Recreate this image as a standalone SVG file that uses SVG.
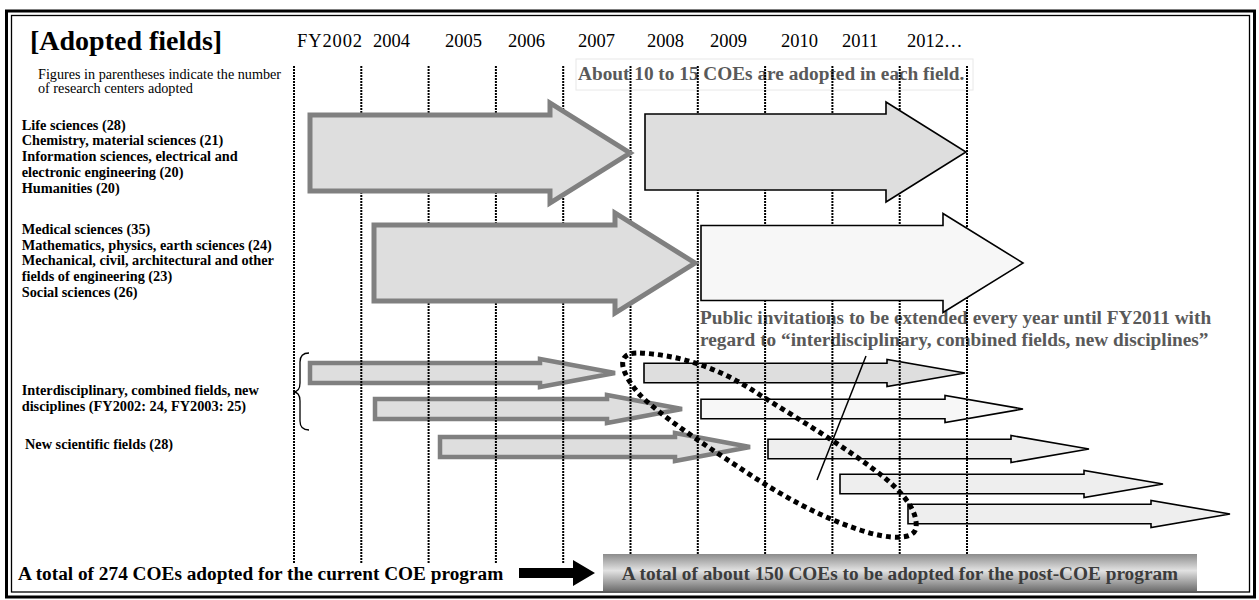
<svg xmlns="http://www.w3.org/2000/svg" width="1259" height="600" viewBox="0 0 1259 600">
<defs>
<style>
text{font-family:"Liberation Serif","Times New Roman",serif;}
.title{font-size:28px;font-weight:bold;fill:#000;}
.yr{font-size:18.5px;fill:#000;}
.note{font-size:14.2px;fill:#000;}
.lbl{font-size:14.3px;font-weight:bold;fill:#000;}
.call{font-size:19.3px;font-weight:bold;fill:#595959;}
.bot{font-size:19.3px;font-weight:bold;fill:#000;}
.grid line{stroke:#000;stroke-width:2;stroke-dasharray:2 1;}
.garrow{fill:#dedede;stroke:#808080;stroke-width:5;stroke-linejoin:miter;}
.gsmall{fill:#dedede;stroke:#808080;stroke-width:4.5;stroke-linejoin:miter;}
.barrow{stroke:#000;stroke-width:1.6;stroke-linejoin:miter;}
</style>
<linearGradient id="gbox" x1="0" y1="0" x2="0" y2="1">
<stop offset="0" stop-color="#8c8c8c"/>
<stop offset="0.45" stop-color="#e2e2e2"/>
<stop offset="1" stop-color="#6e6e6e"/>
</linearGradient>
</defs>
<rect width="1259" height="600" fill="#fff"/>
<g id="frame" fill="none" stroke="#000">
<rect x="6.5" y="11" width="1248" height="586" stroke-width="3"/>
<rect x="11.5" y="15.5" width="1238" height="576.5" stroke-width="1.3"/>
</g>
<g id="header">
<text class="title" x="30" y="50">[Adopted fields]</text>
<text class="yr" x="297" y="47" textLength="65" lengthAdjust="spacing">FY2002</text>
<text class="yr" x="373" y="47">2004</text>
<text class="yr" x="445" y="47">2005</text>
<text class="yr" x="508" y="47">2006</text>
<text class="yr" x="578" y="47">2007</text>
<text class="yr" x="647" y="47">2008</text>
<text class="yr" x="710" y="47">2009</text>
<text class="yr" x="781" y="47">2010</text>
<text class="yr" x="842" y="47">2011</text>
<text class="yr" x="907" y="47">2012…</text>
<text class="note" x="38" y="79">Figures in parentheses indicate the number</text>
<text class="note" x="38" y="93">of research centers adopted</text>
</g>
<g id="labels-group1">
<text class="lbl" x="21.7" y="129.5">Life sciences (28)</text>
<text class="lbl" x="21.7" y="145.3">Chemistry, material sciences (21)</text>
<text class="lbl" x="21.7" y="161.1">Information sciences, electrical and</text>
<text class="lbl" x="21.7" y="176.9">electronic engineering (20)</text>
<text class="lbl" x="21.7" y="192.7">Humanities (20)</text>
</g>
<g id="labels-group2">
<text class="lbl" x="21.7" y="234">Medical sciences (35)</text>
<text class="lbl" x="21.7" y="249.7">Mathematics, physics, earth sciences (24)</text>
<text class="lbl" x="21.7" y="265.4">Mechanical, civil, architectural and other</text>
<text class="lbl" x="21.7" y="281.1">fields of engineering (23)</text>
<text class="lbl" x="21.7" y="296.8">Social sciences (26)</text>
</g>
<g id="labels-group3">
<text class="lbl" x="21.7" y="395">Interdisciplinary, combined fields, new</text>
<text class="lbl" x="21.7" y="411">disciplines (FY2002: 24, FY2003: 25)</text>
<text class="lbl" x="25" y="449">New scientific fields (28)</text>
</g>
<g id="callout-about">
<rect x="576" y="59" width="397" height="31" fill="none" stroke="#e8e8e8" stroke-width="1"/>
<text class="call" x="578" y="80">About 10 to 15 COEs are adopted in each field.</text>
</g>
<g id="callout-public">
<text class="call" x="700" y="324">Public invitations to be extended every year until FY2011 with</text>
<text class="call" x="700" y="346">regard to “interdisciplinary, combined fields, new disciplines”</text>
</g>
<g id="small-arrows-current">
<path id="s1" class="gsmall" d="M310,363 H540 V359 L615,373 L540,387 V383 H310 Z"/>
<path id="s2" class="gsmall" d="M375,399 H607 V395 L682,409 L607,423 V419 H375 Z"/>
<path id="s3" class="gsmall" d="M440,437 H675 V433 L750,447 L675,461 V457 H440 Z"/>
</g>
<g id="small-arrows-post">
<path id="b1" class="barrow" fill="#dedede" d="M644,363.3 H887 V359.5 L965,373 L887,386.5 V382.7 H644 Z"/>
<path id="b2" class="barrow" fill="#f7f7f7" d="M701,399.3 H945 V395.5 L1023,409 L945,422.5 V418.7 H701 Z"/>
<path id="b3" class="barrow" fill="#eeeeee" d="M768,439.3 H1011 V435.5 L1089,449 L1011,462.5 V458.7 H768 Z"/>
<path id="b4" class="barrow" fill="#eeeeee" d="M840,474.3 H1084 V470.5 L1163,484 L1084,497.5 V493.7 H840 Z"/>
<path id="b5" class="barrow" fill="#eeeeee" d="M908,504.3 H1151 V500.5 L1230,514 L1151,527.5 V523.7 H908 Z"/>
</g>
<g id="gridlines" class="grid">
<line x1="294" y1="66" x2="294" y2="563"/>
<line x1="361.3" y1="66" x2="361.3" y2="563"/>
<line x1="428.6" y1="66" x2="428.6" y2="563"/>
<line x1="495.9" y1="66" x2="495.9" y2="563"/>
<line x1="563.2" y1="66" x2="563.2" y2="563"/>
<line x1="630.5" y1="66" x2="630.5" y2="563"/>
<line x1="697.8" y1="66" x2="697.8" y2="563"/>
<line x1="765.1" y1="66" x2="765.1" y2="563"/>
<line x1="832.4" y1="66" x2="832.4" y2="563"/>
<line x1="899.7" y1="66" x2="899.7" y2="563"/>
<line x1="967" y1="66" x2="967" y2="563"/>
</g>
<g id="big-arrows-current">
<path id="a1" class="garrow" d="M310,115 H550 V103 L630,153 L550,203 V191 H310 Z"/>
<path id="a3" class="garrow" d="M374,225 H615 V213 L695,263 L615,313 V301 H374 Z"/>
</g>
<g id="big-arrows-post">
<path id="a2" class="barrow" fill="#dedede" d="M645,114 H886 V102 L966,152 L886,202 V190 H645 Z"/>
<path id="a4" class="barrow" fill="#f7f7f7" d="M701,225.5 H943 V213.5 L1023,263 L943,312.5 V300.5 H701 Z"/>
</g>
<g id="brace">
<path d="M309,353 Q300,353 300,362 V383 Q300,392 293,392 Q300,392 300,401 V421 Q300,430 309,430" fill="none" stroke="#000" stroke-width="1.3"/>
</g>
<g id="connectors">
<path id="loop" d="M640,353 C680,355 720,368 760,395 C800,420 850,450 885,478 C905,495 918,512 916,528 C914,540 890,540 860,530 C820,517 780,495 740,468 C700,442 660,415 640,395 C625,378 618,362 626,356 C630,353 635,353 640,353 Z" fill="none" stroke="#000" stroke-width="5" stroke-dasharray="5 4"/>
<line id="pointer" x1="866" y1="356" x2="817" y2="480" stroke="#000" stroke-width="1.5"/>
<path id="bottom-arrow" d="M519,568 H573 V560 L595,573 L573,586 V578 H519 Z" fill="#000"/>
</g>
<g id="total-current">
<text class="bot" x="18" y="580">A total of 274 COEs adopted for the current COE program</text>
</g>
<g id="total-post">
<rect x="603" y="554" width="594" height="37" fill="url(#gbox)"/>
<text class="bot" x="900" y="580" text-anchor="middle" style="fill:#3c3c3c">A total of about 150 COEs to be adopted for the post-COE program</text>
</g>
</svg>
